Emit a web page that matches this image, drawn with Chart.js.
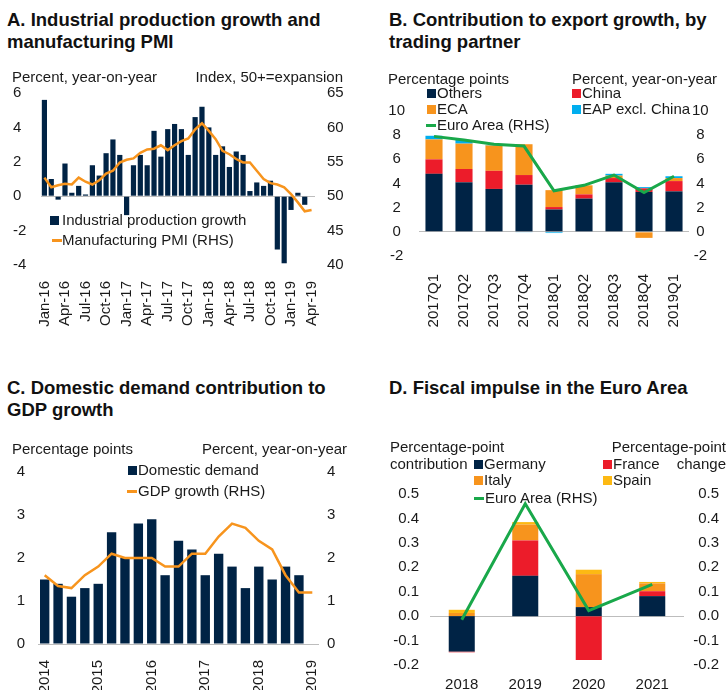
<!DOCTYPE html>
<html>
<head>
<meta charset="utf-8">
<script src="https://cdn.jsdelivr.net/npm/chart.js@4.4.0/dist/chart.umd.min.js"></script>
<style>
body { margin: 0; background: #fff; }
#wrap { position: relative; width: 728px; height: 690px; overflow: hidden; font-family: "Liberation Sans", Arial, sans-serif; color: #1a1a1a; }
#wrap canvas { position: absolute; }
.t { position: absolute; font-weight: bold; font-size: 18.5px; line-height: 22px; white-space: nowrap; color: #111; }
.u { position: absolute; font-size: 15px; line-height: 18px; white-space: nowrap; }
.mk { position: absolute; }
</style>
</head>
<body>
<div id="wrap">
    <canvas id="cA" width="364" height="270" style="left:0;top:60px"></canvas>
    <canvas id="cB" width="364" height="270" style="left:364px;top:60px"></canvas>
    <canvas id="cC" width="364" height="260" style="left:0;top:430px"></canvas>
    <canvas id="cD" width="364" height="260" style="left:364px;top:430px"></canvas>

    <div class="t" style="left:7px;top:9px">A. Industrial production growth and<br>manufacturing PMI</div>
    <div class="t" style="left:389px;top:9px">B. Contribution to export growth, by<br>trading partner</div>
    <div class="t" style="left:7px;top:377px">C. Domestic demand contribution to<br>GDP growth</div>
    <div class="t" style="left:389px;top:377px">D. Fiscal impulse in the Euro Area</div>
</div>

<script>
// panel A - monthly
const monthLabels = ['Jan-16', 'Feb-16', 'Mar-16', 'Apr-16', 'May-16', 'Jun-16', 'Jul-16', 'Aug-16', 'Sep-16', 'Oct-16', 'Nov-16', 'Dec-16',
    'Jan-17', 'Feb-17', 'Mar-17', 'Apr-17', 'May-17', 'Jun-17', 'Jul-17', 'Aug-17', 'Sep-17', 'Oct-17', 'Nov-17', 'Dec-17',
    'Jan-18', 'Feb-18', 'Mar-18', 'Apr-18', 'May-18', 'Jun-18', 'Jul-18', 'Aug-18', 'Sep-18', 'Oct-18', 'Nov-18', 'Dec-18',
    'Jan-19', 'Feb-19', 'Mar-19', 'Apr-19'];
const ipGrowth = [5.6, 1.0, -0.2, 1.9, 0.2, 0.6, 0.1, 1.8, 1.2, 2.5, 3.3, 2.4,
    -1.1, 1.8, 2.4, 1.8, 3.8, 2.3, 3.9, 4.2, 3.9, 2.4, 4.6, 5.2,
    4.0, 2.4, 2.9, 1.7, 2.6, 2.4, 0.3, 0.8, 0.6, 0.9, -3.1, -3.9,
    -0.8, 0.2, -0.5, null];
const pmi = [52.7, 51.3, 51.6, 51.8, 51.7, 52.7, 52.1, 51.7, 52.3, 53.3, 53.7, 54.9,
    55.3, 55.5, 56.3, 56.8, 56.9, 57.4, 56.7, 57.4, 58.0, 58.4, 59.7, 60.6,
    59.5, 58.3, 56.6, 56.1, 55.4, 54.9, 54.9, 53.7, 52.5, 51.9, 51.7, 51.3,
    50.3, 49.1, 47.8, 48.0];

// panel B - quarterly
const quartersB = ['2017Q1', '2017Q2', '2017Q3', '2017Q4', '2018Q1', '2018Q2', '2018Q3', '2018Q4', '2019Q1'];
const others = [4.8, 4.1, 3.55, 3.9, 1.85, 2.75, 4.1, 3.3, 3.35];
const china = [1.2, 1.1, 1.5, 0.8, 0.2, 0.35, 0.35, 0.3, 0.85];
const eca = [1.65, 2.1, 2.1, 2.55, 1.4, 0.75, 0.2, -0.5, 0.25];
const eapExChina = [0.3, 0.3, 0.05, -0.05, -0.1, 0.0, 0.15, 0.1, 0.15];
const euroAreaExports = [7.9, 7.6, 7.25, 7.1, 3.4, 3.85, 4.7, 3.25, 4.6];

// panel C - quarterly
const quartersC = ['2014Q1', '2014Q2', '2014Q3', '2014Q4', '2015Q1', '2015Q2', '2015Q3', '2015Q4',
    '2016Q1', '2016Q2', '2016Q3', '2016Q4', '2017Q1', '2017Q2', '2017Q3', '2017Q4',
    '2018Q1', '2018Q2', '2018Q3', '2018Q4', '2019Q1'];
const domesticDemand = [1.5, 1.4, 1.1, 1.3, 1.4, 2.6, 2.0, 2.8, 2.9, 1.6, 2.4, 2.2, 1.6, 2.1, 1.8, 1.3, 1.8, 1.5, 1.8, 1.6, null];
const gdpGrowth = [1.6, 1.35, 1.3, 1.6, 1.8, 2.1, 2.0, 2.0, 2.0, 1.8, 1.8, 2.1, 2.1, 2.5, 2.8, 2.7, 2.4, 2.2, 1.6, 1.2, 1.2];

// panel D - yearly
const yearsD = ['2018', '2019', '2020', '2021'];
const germany = [-0.145, 0.165, 0.037, 0.082];
const france = [-0.003, 0.145, -0.18, 0.02];
const italy = [0.013, 0.065, 0.135, 0.032];
const spain = [0.013, 0.01, 0.018, 0.006];
const euroAreaFiscal = [-0.015, 0.46, 0.023, 0.13];

const NAVY = '#002345';
const ORANGE = '#F7941D';
const RED = '#EC1C2A';
const CYAN = '#00AEEF';
const GOLD = '#FDB913';
const GREEN = '#19A84A';

Chart.defaults.font.family = "'Liberation Sans', Arial, sans-serif";
Chart.defaults.font.size = 15;
Chart.defaults.color = '#1a1a1a';

const wrap = document.getElementById('wrap');

function addText(x, cy, text, alignRight) {
    const d = document.createElement('div');
    d.className = 'u';
    d.textContent = text;
    d.style.top = (cy - 9) + 'px';
    if (alignRight) d.style.right = (728 - x) + 'px';
    else d.style.left = x + 'px';
    wrap.appendChild(d);
}

function addLegend(mx, tx, cy, kind, color, text) {
    const m = document.createElement('div');
    m.className = 'mk';
    m.style.background = color;
    m.style.left = mx + 'px';
    if (kind === 'line') {
        m.style.width = '10px'; m.style.height = '3px'; m.style.top = (cy - 1) + 'px';
    } else {
        m.style.width = '9px'; m.style.height = '9px'; m.style.top = (cy - 4) + 'px';
    }
    wrap.appendChild(m);
    addText(tx, cy, text);
}

// only the zero line is drawn
const zeroLine = (ctx) => Math.abs(ctx.tick.value) < 1e-9 ? '#bdbdbd' : 'rgba(0,0,0,0)';
const fixW = (w) => (s) => { s.width = w; };
const fixH = (h) => (s) => { s.height = h; };
const oneDec = (v) => (Math.abs(v) < 1e-9 ? 0 : v).toFixed(1);

const baseOpts = {
    responsive: false,
    animation: false,
    devicePixelRatio: 1,
    plugins: { legend: { display: false }, tooltip: { enabled: false } }
};

//A
new Chart(document.getElementById('cA'), {
    type: 'bar',
    data: {
        labels: monthLabels,
        datasets: [
            { type: 'bar', data: ipGrowth, yAxisID: 'y', backgroundColor: NAVY, barPercentage: 0.76, categoryPercentage: 1, order: 1 },
            { type: 'line', data: pmi, yAxisID: 'y1', borderColor: ORANGE, borderWidth: 2.5, pointRadius: 0, order: 0 }
        ]
    },
    options: {
        ...baseOpts,
        layout: { padding: { top: 33, left: 13, right: 0, bottom: 0 } },
        scales: {
            x: {
                grid: { display: false }, border: { display: false },
                ticks: {
                    autoSkip: false, minRotation: 90, maxRotation: 90, padding: 8,
                    callback: function (v, i) { return i % 3 === 0 ? this.getLabelForValue(v) : ''; }
                },
                afterFit: fixH(65)
            },
            y: {
                position: 'left', min: -4, max: 6,
                ticks: { stepSize: 2, crossAlign: 'far', padding: 0 },
                grid: { color: zeroLine, drawTicks: false }, border: { display: false },
                afterFit: fixW(28)
            },
            y1: {
                position: 'right', min: 40, max: 65,
                ticks: { stepSize: 5, padding: 12 },
                grid: { display: false, drawTicks: false }, border: { display: false },
                afterFit: fixW(49)
            }
        }
    }
});

//B
new Chart(document.getElementById('cB'), {
    type: 'bar',
    data: {
        labels: quartersB,
        datasets: [
            { data: others, backgroundColor: NAVY, order: 1 },
            { data: china, backgroundColor: RED, order: 1 },
            { data: eca, backgroundColor: ORANGE, order: 1 },
            { data: eapExChina, backgroundColor: CYAN, order: 1 },
            { type: 'line', data: euroAreaExports, yAxisID: 'y1', borderColor: GREEN, borderWidth: 3, pointRadius: 0, order: 0 }
        ]
    },
    options: {
        ...baseOpts,
        datasets: { bar: { barPercentage: 0.57, categoryPercentage: 1 } },
        layout: { padding: { top: 51, left: 0, right: 0, bottom: 0 } },
        scales: {
            x: {
                stacked: true,
                grid: { display: false }, border: { display: false },
                ticks: { autoSkip: false, minRotation: 90, maxRotation: 90, padding: 10 },
                afterFit: fixH(74)
            },
            y: {
                stacked: true, position: 'left', min: -2, max: 10,
                ticks: { stepSize: 2, crossAlign: 'center', padding: 14 },
                grid: { color: zeroLine, drawTicks: false }, border: { display: false },
                afterFit: fixW(55)
            },
            y1: {
                position: 'right', min: -2, max: 10,
                ticks: { stepSize: 2, crossAlign: 'center', padding: 3 },
                grid: { display: false, drawTicks: false }, border: { display: false },
                afterFit: fixW(39)
            }
        }
    }
});

//C
new Chart(document.getElementById('cC'), {
    type: 'bar',
    data: {
        labels: quartersC,
        datasets: [
            { data: domesticDemand, backgroundColor: NAVY, barPercentage: 0.7, categoryPercentage: 1, order: 1 },
            { type: 'line', data: gdpGrowth, yAxisID: 'y1', borderColor: ORANGE, borderWidth: 2.5, pointRadius: 0, order: 0 }
        ]
    },
    options: {
        ...baseOpts,
        layout: { padding: { top: 42, left: 0, right: 0, bottom: 0 } },
        scales: {
            x: {
                grid: { display: false }, border: { display: false },
                ticks: {
                    autoSkip: false, minRotation: 90, maxRotation: 90, padding: 8,
                    callback: function (v, i) { const l = this.getLabelForValue(v); return l.endsWith('Q1') ? l.slice(0, 4) : ''; }
                },
                afterFit: fixH(46)
            },
            y: {
                position: 'left', min: 0, max: 4,
                ticks: { stepSize: 1, padding: 13 },
                grid: { color: zeroLine, drawTicks: false }, border: { display: false },
                afterFit: fixW(38)
            },
            y1: {
                position: 'right', min: 0, max: 4,
                ticks: { stepSize: 1, padding: 8 },
                grid: { display: false, drawTicks: false }, border: { display: false },
                afterFit: fixW(45)
            }
        }
    }
});

//D
new Chart(document.getElementById('cD'), {
    type: 'bar',
    data: {
        labels: yearsD,
        datasets: [
            { data: germany, backgroundColor: NAVY, order: 1 },
            { data: france, backgroundColor: RED, order: 1 },
            { data: italy, backgroundColor: ORANGE, order: 1 },
            { data: spain, backgroundColor: GOLD, order: 1 },
            { type: 'line', data: euroAreaFiscal, yAxisID: 'y1', borderColor: GREEN, borderWidth: 3, pointRadius: 0, order: 0 }
        ]
    },
    options: {
        ...baseOpts,
        datasets: { bar: { barPercentage: 0.41, categoryPercentage: 1 } },
        layout: { padding: { top: 64, left: 0, right: 9, bottom: 0 } },
        scales: {
            x: {
                stacked: true,
                grid: { display: false }, border: { display: false },
                ticks: { padding: 3 },
                afterFit: fixH(25)
            },
            y: {
                stacked: true, position: 'left', min: -0.2, max: 0.5,
                ticks: { stepSize: 0.1, padding: 11, callback: oneDec },
                grid: { color: zeroLine, drawTicks: false }, border: { display: false },
                afterFit: fixW(66)
            },
            y1: {
                position: 'right', min: -0.2, max: 0.5,
                ticks: { stepSize: 0.1, crossAlign: 'far', padding: 0, callback: oneDec },
                grid: { display: false, drawTicks: false }, border: { display: false },
                afterFit: fixW(35)
            }
        }
    }
});

// axis units
addText(12, 77, 'Percent, year-on-year');
addText(343, 77, 'Index, 50+=expansion', true);
addText(388, 79, 'Percentage points');
addText(572, 79, 'Percent, year-on-year');
addText(12, 449, 'Percentage points');
addText(202, 449, 'Percent, year-on-year');
addText(390, 447, 'Percentage-point');
addText(390, 464, 'contribution');
addText(726, 447, 'Percentage-point', true);
addText(726, 464, 'change', true);

// legends
addLegend(50, 62, 220, 'box', NAVY, 'Industrial production growth');
addLegend(52, 62, 240, 'line', ORANGE, 'Manufacturing PMI (RHS)');

addLegend(427, 437, 93, 'box', NAVY, 'Others');
addLegend(572, 582, 93, 'box', RED, 'China');
addLegend(427, 437, 109, 'box', ORANGE, 'ECA');
addLegend(572, 582, 109, 'box', CYAN, 'EAP excl. China');
addLegend(426, 437, 125, 'line', GREEN, 'Euro Area (RHS)');

addLegend(128, 138, 470, 'box', NAVY, 'Domestic demand');
addLegend(127, 138, 491, 'line', ORANGE, 'GDP growth (RHS)');

addLegend(474, 484, 464, 'box', NAVY, 'Germany');
addLegend(603, 613, 464, 'box', RED, 'France');
addLegend(474, 484, 480, 'box', ORANGE, 'Italy');
addLegend(603, 613, 480, 'box', GOLD, 'Spain');
addLegend(474, 485, 498, 'line', GREEN, 'Euro Area (RHS)');
</script>
</body>
</html>
